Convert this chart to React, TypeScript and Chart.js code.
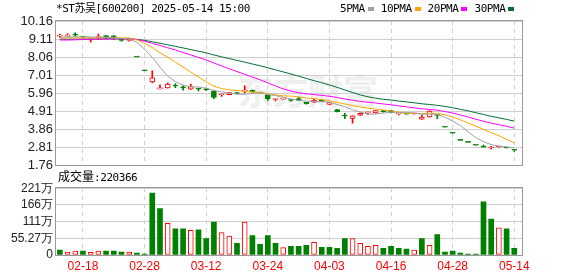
import React, { useEffect, useRef } from "react";
import { Chart, registerables } from "chart.js";

Chart.register(...registerables);

// ---------- data ----------
const dates = [
  "02-13", "02-14", "02-17", "02-18", "02-19", "02-20", "02-21", "02-24", "02-25", "02-26",
  "02-27", "02-28", "03-03", "03-04", "03-05", "03-06", "03-07", "03-10", "03-11", "03-12",
  "03-13", "03-14", "03-17", "03-18", "03-19", "03-20", "03-21", "03-24", "03-25", "03-26",
  "03-27", "03-28", "03-31", "04-01", "04-02", "04-03", "04-07", "04-08", "04-09", "04-10",
  "04-11", "04-14", "04-15", "04-16", "04-17", "04-18", "04-21", "04-22", "04-23", "04-24",
  "04-25", "04-28", "04-29", "05-06", "05-07", "05-08", "05-09", "05-12", "05-13", "05-14",
];
const tickIndices = [3, 11, 19, 27, 35, 43, 51, 59];
const priceTicks = [1.76, 2.81, 3.86, 4.91, 5.96, 7.01, 8.06, 9.11, 10.16];
const volumeTicks = [0, 55.27, 110.54, 165.81, 221.08];

const opens = [
  9.28, 9.28, 9.36, 9.25, 9.06, 9.19, 9.29, 9.27, 9.08, 9.03,
  8.06, 7.26, 6.60, 6.20, 6.25, 6.40, 6.29, 6.19, 6.20, 6.18,
  6.07, 5.86, 5.86, 5.96, 6.06, 6.13, 5.97, 5.84, 5.58, 5.60,
  5.55, 5.64, 5.41, 5.42, 5.54, 5.30, 5.00, 4.64, 4.47, 4.66,
  4.80, 4.80, 4.90, 4.93, 4.74, 4.75, 4.74, 4.43, 4.57, 4.68,
  3.96, 3.61, 3.20, 3.08, 2.91, 2.81, 2.75, 2.81, 2.78, 2.63,
];
const closes = [
  9.30, 9.30, 9.34, 9.22, 9.09, 9.22, 9.25, 9.24, 9.03, 9.07,
  8.06, 7.26, 6.84, 6.21, 6.48, 6.37, 6.26, 6.34, 6.18, 6.15,
  5.70, 5.88, 5.98, 5.93, 6.13, 6.02, 5.96, 5.61, 5.59, 5.61,
  5.52, 5.53, 5.32, 5.54, 5.47, 5.41, 4.86, 4.62, 4.63, 4.78,
  4.82, 4.93, 4.87, 4.82, 4.76, 4.73, 4.75, 4.56, 4.91, 4.65,
  3.96, 3.61, 3.20, 3.08, 2.91, 2.80, 2.77, 2.83, 2.76, 2.62,
];
const highs = [
  9.40, 9.42, 9.48, 9.27, 9.12, 9.40, 9.31, 9.31, 9.08, 9.10,
  8.06, 7.26, 7.26, 6.44, 6.55, 6.50, 6.40, 6.48, 6.24, 6.22,
  6.12, 5.89, 5.99, 5.99, 6.38, 6.14, 5.98, 5.86, 5.60, 5.62,
  5.58, 5.70, 5.42, 5.61, 5.55, 5.42, 5.01, 4.78, 4.64, 4.80,
  4.83, 4.94, 4.94, 4.94, 4.77, 4.76, 4.76, 4.67, 4.93, 4.70,
  3.96, 3.61, 3.20, 3.08, 2.91, 2.93, 2.85, 2.85, 2.78, 2.64,
];
const lows = [
  9.20, 9.28, 9.28, 9.20, 8.93, 9.07, 9.11, 9.08, 8.98, 8.98,
  8.06, 7.26, 6.55, 6.19, 6.24, 6.27, 6.13, 6.17, 6.08, 6.10,
  5.63, 5.76, 5.85, 5.89, 5.96, 6.00, 5.95, 5.52, 5.50, 5.59,
  5.47, 5.52, 5.31, 5.41, 5.46, 5.29, 4.85, 4.46, 4.20, 4.64,
  4.71, 4.78, 4.84, 4.80, 4.68, 4.72, 4.73, 4.42, 4.55, 4.46,
  3.96, 3.61, 3.20, 3.08, 2.91, 2.80, 2.69, 2.79, 2.75, 2.55,
];

const ma5 = [
  9.22, 9.23, 9.24, 9.24, 9.23, 9.22, 9.21, 9.18, 9.14, 9.14,
  8.91, 8.51, 8.04, 7.47, 6.95, 6.62, 6.42, 6.32, 6.31, 6.24,
  6.11, 6.03, 5.95, 5.90, 5.88, 5.93, 5.95, 5.87, 5.81, 5.70,
  5.62, 5.53, 5.48, 5.46, 5.45, 5.42, 5.29, 5.16, 4.98, 4.85,
  4.72, 4.74, 4.79, 4.84, 4.83, 4.83, 4.79, 4.72, 4.73, 4.71,
  4.55, 4.32, 4.06, 3.70, 3.35, 3.12, 2.95, 2.87, 2.81, 2.75,
];
const ma10 = [
  9.17, 9.17, 9.18, 9.18, 9.18, 9.18, 9.19, 9.19, 9.18, 9.18,
  9.06, 8.86, 8.61, 8.31, 8.05, 7.76, 7.47, 7.18, 6.89, 6.60,
  6.36, 6.22, 6.14, 6.11, 6.06, 6.02, 5.99, 5.91, 5.85, 5.79,
  5.78, 5.74, 5.67, 5.64, 5.57, 5.52, 5.41, 5.32, 5.22, 5.15,
  5.07, 5.02, 4.97, 4.91, 4.84, 4.77, 4.77, 4.76, 4.78, 4.77,
  4.69, 4.56, 4.39, 4.21, 4.03, 3.84, 3.64, 3.47, 3.25, 3.05,
];
const ma20 = [
  9.05, 9.05, 9.06, 9.08, 9.09, 9.10, 9.11, 9.12, 9.12, 9.12,
  9.08, 8.98, 8.86, 8.73, 8.60, 8.47, 8.32, 8.18, 8.03, 7.89,
  7.71, 7.54, 7.37, 7.21, 7.05, 6.89, 6.73, 6.55, 6.37, 6.20,
  6.07, 5.98, 5.91, 5.87, 5.82, 5.77, 5.70, 5.61, 5.54, 5.47,
  5.42, 5.38, 5.32, 5.27, 5.21, 5.15, 5.09, 5.04, 5.00, 4.96,
  4.88, 4.79, 4.68, 4.56, 4.43, 4.31, 4.20, 4.11, 4.02, 3.91,
];
const ma30 = [
  9.10, 9.10, 9.10, 9.11, 9.11, 9.11, 9.12, 9.12, 9.12, 9.13,
  9.09, 9.03, 8.95, 8.86, 8.77, 8.68, 8.59, 8.49, 8.40, 8.30,
  8.18, 8.07, 7.97, 7.86, 7.76, 7.65, 7.55, 7.43, 7.31, 7.19,
  7.07, 6.94, 6.81, 6.68, 6.56, 6.43, 6.29, 6.14, 5.99, 5.85,
  5.74, 5.66, 5.59, 5.55, 5.49, 5.44, 5.39, 5.33, 5.29, 5.24,
  5.18, 5.10, 5.01, 4.92, 4.81, 4.71, 4.60, 4.51, 4.42, 4.32,
];

// volume in 万 (10k)
const volumes = [
  16, 9.6, 12.8, 12.8, 8.5, 12.8, 12.8, 12.8, 9.6, 9.6,
  6.4, 3.2, 205, 154, 105, 86.5, 86.5, 82, 83, 54.5,
  109, 74, 63, 38.4, 109, 64, 35, 64, 38.4, 24.6,
  28.8, 28.8, 32, 41.7, 25.6, 25.6, 22.4, 54.5, 54.5, 38.4,
  28.8, 32, 22.4, 28.8, 22.4, 19.2, 16, 54.5, 32, 67.3,
  9.6, 12.8, 6.4, 3.2, 3.2, 176, 118.5, 89.7, 86.5, 22.04,
];
// 1 = rising (red hollow), 0 = falling (green)
const volumeUp = [
  0, 1, 1, 0, 1, 1, 0, 0, 0, 1,
  0, 0, 0, 0, 1, 0, 0, 1, 0, 0,
  0, 1, 1, 0, 1, 0, 0, 0, 0, 1,
  0, 0, 0, 1, 0, 0, 0, 0, 1, 1,
  1, 1, 0, 0, 0, 0, 1, 0, 1, 0,
  0, 0, 0, 0, 0, 0, 0, 1, 0, 0,
];

const titleText = "*ST苏吴[600200] 2025-05-14 15:00";
const maLabels = ["5PMA", "10PMA", "20PMA", "30PMA"];
const volumeTitle = "成交量";
const lastVolume = "220366";

// ---------- styles ----------
const RED = "#ff0000";
const GREEN = "#008000";
const MA_COLORS = ["#a0a0a0", "#ffa500", "#ff00ff", "#006f35"];
const GRID = "#cfcfcf";
const AXIS_FONT = "'Liberation Sans', Arial, sans-serif";
const MONO = "'DejaVu Sans Mono', 'Noto Sans CJK SC', monospace";

function isUp(i: number) {
  const o = opens[i];
  const c = closes[i];
  if (c !== o) return c > o;
  return i > 0 ? c >= closes[i - 1] : true;
}

const boxPlugin = {
  id: "boxBorder",
  afterDraw(chart: any) {
    const { ctx, chartArea: a } = chart;
    ctx.save();
    ctx.strokeStyle = "#999999";
    ctx.lineWidth = 1;
    ctx.strokeRect(
      Math.round(a.left) - 0.5,
      Math.round(a.top) - 0.5,
      Math.round(a.right - a.left) + 1,
      Math.round(a.bottom - a.top) + 1
    );
    ctx.restore();
  },
};

function makeXScale(showLabels: boolean): any {
  return {
    type: "linear",
    min: -0.5,
    max: 60,
    offset: false,
    afterBuildTicks: (s: any) => {
      s.ticks = tickIndices.map((v) => ({ value: v }));
    },
    ticks: {
      display: showLabels,
      autoSkip: false,
      maxRotation: 0,
      padding: 4,
      color: RED,
      font: { size: 12, family: AXIS_FONT },
      callback: (v: any) => dates[Number(v)] ?? "",
    },
    grid: { color: GRID, drawTicks: false, lineWidth: 1, offset: false },
    border: { display: false, dash: [4, 4] },
    afterFit: (s: any) => {
      s.height = showLabels ? 21 : 0;
    },
  };
}

export default function App() {
  const priceRef = useRef<HTMLCanvasElement | null>(null);
  const volRef = useRef<HTMLCanvasElement | null>(null);

  useEffect(() => {
    if (!priceRef.current || !volRef.current) return;
    const up = opens.map((_, i) => isUp(i));
    const candleColor = up.map((u) => (u ? RED : GREEN));

    const maSets = [ma5, ma10, ma20, ma30].map((arr, k) => ({
      type: "line",
      label: maLabels[k],
      data: arr.map((y, i) => ({ x: i, y })),
      borderColor: MA_COLORS[k],
      borderWidth: 1,
      pointRadius: 0,
      fill: false,
      tension: 0,
      order: 0,
    }));

    const price = new Chart(priceRef.current, {
      type: "bar",
      data: {
        datasets: [
          ...maSets,
          {
            type: "bar",
            label: "body",
            data: opens.map((o, i) => ({ x: i, y: [o, closes[i]] })),
            backgroundColor: up.map((u) => (u ? "#ffffff" : GREEN)),
            borderColor: candleColor,
            borderWidth: 1,
            borderSkipped: false,
            barThickness: 5,
            minBarLength: 1,
            grouped: false,
            order: 1,
          },
          {
            type: "bar",
            label: "wick",
            data: lows.map((l, i) => ({ x: i, y: [l, highs[i]] })),
            backgroundColor: candleColor,
            borderWidth: 0,
            barThickness: 1,
            grouped: false,
            order: 2,
          },
        ] as any,
      },
      options: {
        responsive: false,
        animation: false,
        events: [],
        layout: { padding: { left: 0, right: 56, top: 21, bottom: 13 } },
        plugins: { legend: { display: false }, tooltip: { enabled: false } },
        scales: {
          x: makeXScale(false),
          y: {
            type: "linear",
            min: 1.76,
            max: 10.16,
            afterBuildTicks: (s: any) => {
              s.ticks = priceTicks.map((v) => ({ value: v }));
            },
            ticks: {
              autoSkip: false,
              padding: 3,
              color: "#222",
              font: { size: 13, family: AXIS_FONT },
              callback: (v: any) => Number(v).toFixed(2),
            },
            grid: { color: GRID, drawTicks: false },
            border: { display: false },
            afterFit: (s: any) => {
              s.width = 56;
            },
          },
        },
      } as any,
      plugins: [boxPlugin],
    });

    const vol = new Chart(volRef.current, {
      type: "bar",
      data: {
        datasets: [
          {
            label: "volume",
            data: volumes.map((v, i) => ({ x: i, y: v })),
            backgroundColor: volumeUp.map((u) => (u ? "#ffffff" : GREEN)),
            borderColor: volumeUp.map((u) => (u ? RED : GREEN)),
            borderWidth: volumeUp.map((u) => (u ? 1 : 0)),
            borderSkipped: false,
            barThickness: 5,
            grouped: false,
          },
        ] as any,
      },
      options: {
        responsive: false,
        animation: false,
        events: [],
        layout: { padding: { left: 0, right: 56, top: 8, bottom: 0 } },
        plugins: { legend: { display: false }, tooltip: { enabled: false } },
        scales: {
          x: makeXScale(true),
          y: {
            type: "linear",
            min: 0,
            max: 221.08,
            afterBuildTicks: (s: any) => {
              s.ticks = volumeTicks.map((v) => ({ value: v }));
            },
            ticks: {
              autoSkip: false,
              padding: 3,
              color: "#222",
              font: { size: 12, family: AXIS_FONT },
              callback: (v: any) => {
                const n = Number(v);
                if (n === 0) return "0";
                if (n < 100) return n.toFixed(2) + "万";
                return Math.round(n) + "万";
              },
            },
            grid: { color: GRID, drawTicks: false },
            border: { display: false },
            afterFit: (s: any) => {
              s.width = 56;
            },
          },
        },
      } as any,
      plugins: [boxPlugin],
    });

    return () => {
      price.destroy();
      vol.destroy();
    };
  }, []);

  const textBase: React.CSSProperties = {
    position: "absolute",
    fontFamily: MONO,
    fontSize: 11,
    letterSpacing: "-0.45px",
    lineHeight: "14px",
    color: "#000",
    whiteSpace: "nowrap",
  };

  return (
    <div
      style={{
        position: "absolute",
        left: 0,
        top: 0,
        width: 578,
        height: 276,
        background: "#ffffff",
        overflow: "hidden",
      }}
    >
      <div
        style={{
          position: "absolute",
          left: 238,
          top: 70,
          fontFamily: "'Noto Sans CJK SC', sans-serif",
          fontSize: 35,
          fontWeight: 700,
          lineHeight: "40px",
          color: "#efefef",
          whiteSpace: "nowrap",
        }}
      >
        东方财富
      </div>
      <canvas
        ref={priceRef}
        width={578}
        height={178}
        style={{ position: "absolute", left: 0, top: 0 }}
      />
      <canvas
        ref={volRef}
        width={578}
        height={98}
        style={{ position: "absolute", left: 0, top: 178 }}
      />
      <div style={{ ...textBase, left: 56, top: 2 }}>{titleText}</div>
      <div
        style={{
          ...textBase,
          left: 340,
          top: 2,
          display: "flex",
          alignItems: "center",
        }}
      >
        {maLabels.map((lab, k) => (
          <React.Fragment key={lab}>
            <span>{lab}</span>
            <span
              style={{
                display: "inline-block",
                width: 6,
                height: 4,
                marginLeft: 3,
                marginRight: 7,
                background: MA_COLORS[k],
              }}
            />
          </React.Fragment>
        ))}
      </div>
      <div style={{ ...textBase, left: 58, top: 170 }}>
        <span style={{ fontSize: 12, letterSpacing: 0 }}>{volumeTitle}</span>
        <span>:{lastVolume}</span>
      </div>
    </div>
  );
}
